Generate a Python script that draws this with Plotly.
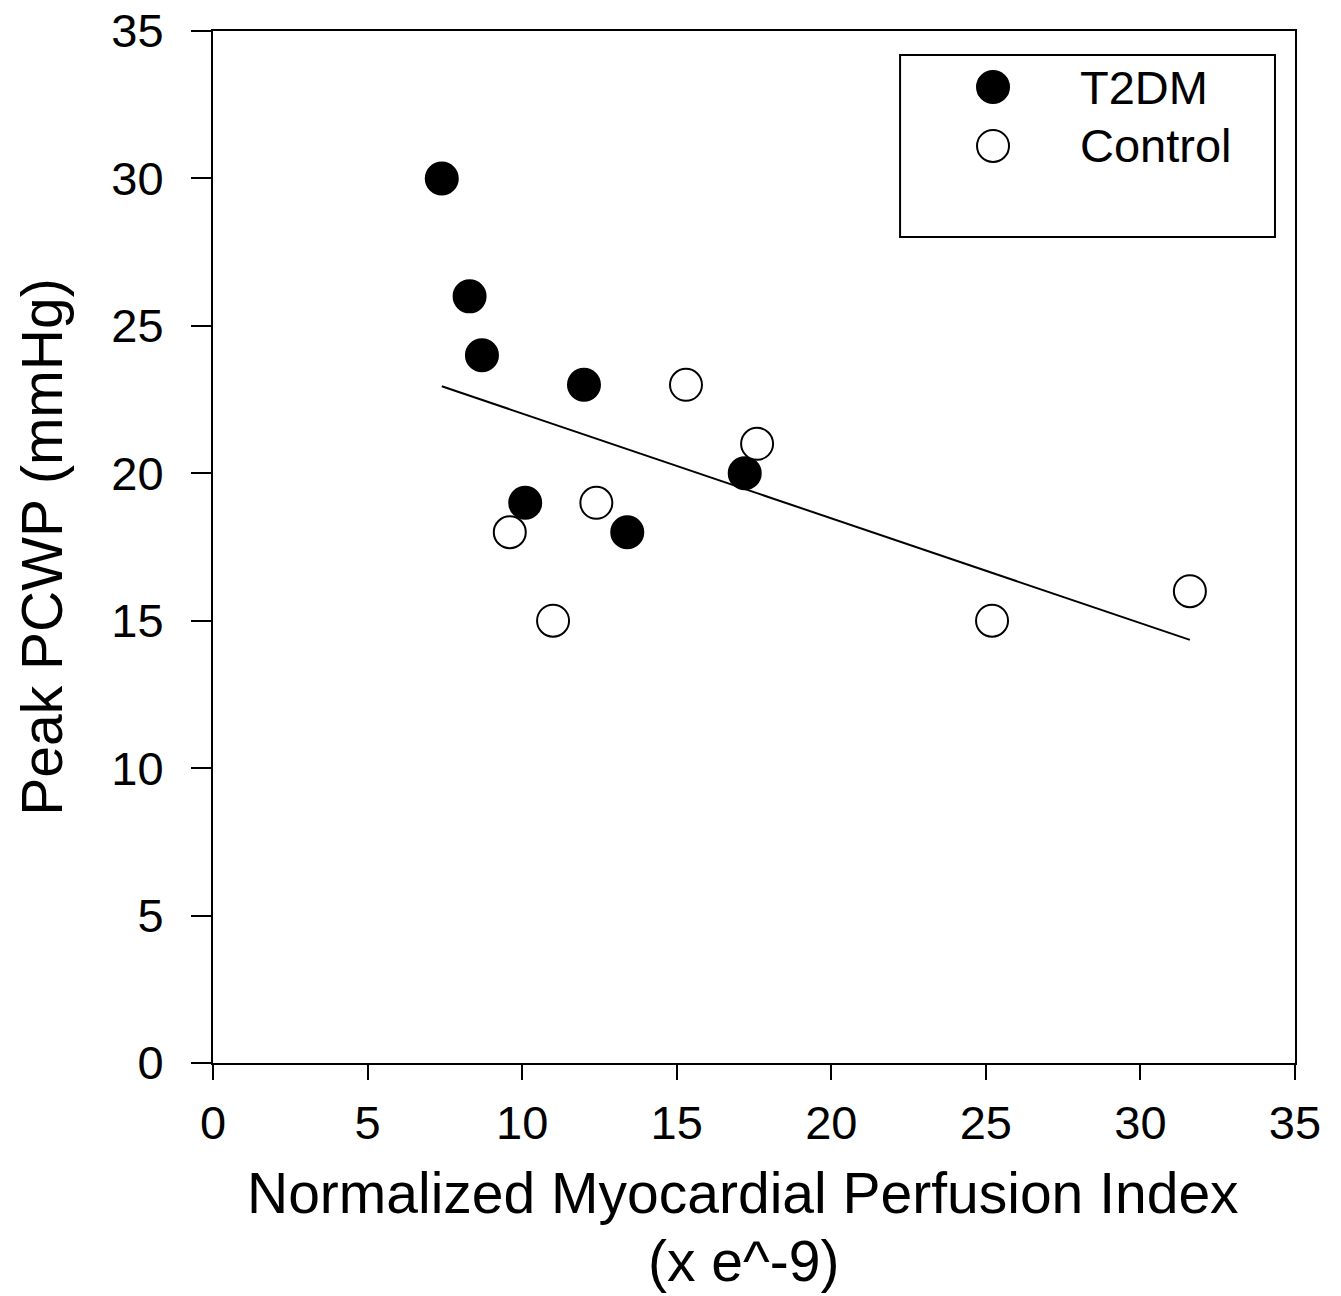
import plotly.graph_objects as go

# Data
t2dm_x = [7.4, 8.3, 8.7, 12.0, 10.1, 13.4, 17.2]
t2dm_y = [30, 26, 24, 23, 19, 18, 20]
ctrl_x = [9.6, 11.0, 12.4, 15.3, 17.6, 25.2, 31.6]
ctrl_y = [18, 15, 19, 23, 21, 15, 16]
fit_x = [7.4, 31.6]
fit_y = [22.95, 14.35]
ticks = [0, 5, 10, 15, 20, 25, 30, 35]
legend_names = ["T2DM", "Control"]
x_title_lines = ["Normalized Myocardial Perfusion Index", "(x e^-9)"]
y_title = "Peak PCWP (mmHg)"

FONT = "Liberation Sans, Arial, sans-serif"
MS = 32

fig = go.Figure()
fig.add_trace(go.Scatter(x=fit_x, y=fit_y, mode="lines",
                         line=dict(color="black", width=2), showlegend=False,
                         hoverinfo="skip"))
fig.add_trace(go.Scatter(x=t2dm_x, y=t2dm_y, mode="markers", name=legend_names[0],
                         marker=dict(size=MS, color="black",
                                     line=dict(color="black", width=2)),
                         showlegend=False))
fig.add_trace(go.Scatter(x=ctrl_x, y=ctrl_y, mode="markers", name=legend_names[1],
                         marker=dict(size=MS, color="white",
                                     line=dict(color="black", width=2)),
                         showlegend=False))

axis_common = dict(range=[0, 35], tickvals=ticks, ticks="outside",
                   showgrid=False, zeroline=False, showline=True,
                   linecolor="black", linewidth=2, tickcolor="black",
                   tickwidth=2, mirror=True, automargin=False,
                   ticklabeloverflow="allow",
                   tickfont=dict(family=FONT, size=47, color="black"))

fig.update_xaxes(**axis_common, ticklen=15, ticklabelstandoff=3)
fig.update_yaxes(**axis_common, ticklen=20, ticklabelstandoff=18,
                 title=dict(text=y_title,
                            font=dict(family=FONT, size=57, color="black"),
                            standoff=30))

shapes = [dict(type="rect", xref="paper", yref="paper",
               x0=0.635, x1=0.9815, y0=0.8004, y1=0.9767,
               line=dict(color="black", width=2), fillcolor="white", layer="above")]
annotations = []
for txt, ys in zip(x_title_lines, [-130, -198]):
    annotations.append(dict(text=txt, xref="paper", yref="paper",
                            x=0.49, y=0, xanchor="center", yanchor="middle",
                            yshift=ys, showarrow=False,
                            font=dict(family=FONT, size=57, color="black")))
leg_y = [0.9457, 0.8886]
leg_fill = ["black", "white"]
for name, yy, fc in zip(legend_names, leg_y, leg_fill):
    shapes.append(dict(type="circle", xref="paper", yref="paper",
                       xsizemode="pixel", ysizemode="pixel",
                       xanchor=0.7209, yanchor=yy,
                       x0=-16, x1=16, y0=-16, y1=16,
                       line=dict(color="black", width=2), fillcolor=fc, layer="above"))
    annotations.append(dict(text=name, xref="paper", yref="paper",
                            x=0.7994, y=yy, xanchor="left", yanchor="middle",
                            showarrow=False,
                            font=dict(family=FONT, size=47, color="black")))

fig.update_layout(width=1341, height=1296,
                  margin=dict(l=213, r=46, t=31, b=233, autoexpand=False),
                  plot_bgcolor="white", paper_bgcolor="white",
                  shapes=shapes, annotations=annotations)

fig.write_html("out.html", config={"displayModeBar": False},
               post_script="document.body.style.margin='0';document.body.style.overflow='hidden';")
